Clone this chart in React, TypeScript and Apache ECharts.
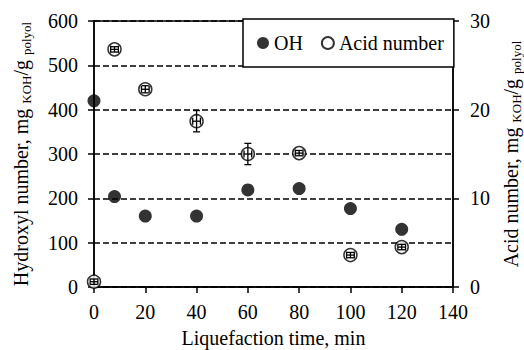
import React, { useEffect, useRef } from "react";
import * as echarts from "echarts";

const times = [0, 8, 20, 40, 60, 80, 100, 120];
const ohValues = [420, 204, 160, 160, 219, 222, 177, 130];
const acidValues = [0.6, 26.8, 22.3, 18.7, 15.0, 15.1, 3.6, 4.5];
const acidYErr = [0.3, 0.3, 0.4, 1.2, 1.2, 0.3, 0.3, 0.3];
const acidXErr = [1.5, 1.5, 1.5, 1.5, 1.5, 1.5, 1.5, 1.5];
const xTicks = { min: 0, max: 140, interval: 20 };
const leftTicks = { min: 0, max: 600, interval: 100 };
const rightTicks = { min: 0, max: 30, interval: 10 };

const FONT = "Liberation Serif";

export default function App() {
  const ref = useRef<HTMLDivElement>(null);
  useEffect(() => {
    if (!ref.current) return;
    const chart = echarts.init(ref.current, null, { renderer: "svg" });
    const axisLine = { show: true, lineStyle: { color: "#000", width: 1.5 } };
    const axisTick = { show: true, length: 6, inside: false, lineStyle: { color: "#000", width: 1.5 } };
    const label = { fontSize: 20, fontFamily: FONT, color: "#000" };
    const richName = {
      m: { fontSize: 20, fontFamily: FONT, color: "#000", lineHeight: 24 },
      s: { fontSize: 13, fontFamily: FONT, color: "#000", lineHeight: 8, verticalAlign: "bottom" },
    };
    chart.setOption({
      animation: false,
      backgroundColor: "#fff",
      textStyle: { fontFamily: FONT },
      grid: {
        left: 94, right: 71, top: 21, bottom: 63,
        containLabel: false, outerBoundsMode: "none",
        show: true, borderColor: "#000", borderWidth: 1.5,
      },
      legend: {
        data: ["OH", "Acid number"],
        left: 243,
        top: 19,
        orient: "horizontal",
        icon: "circle",
        itemWidth: 12,
        itemHeight: 12,
        itemGap: 18,
        padding: [14, 10, 14, 14],
        backgroundColor: "#fff",
        borderColor: "#000",
        borderWidth: 1.5,
        borderRadius: 0,
        textStyle: { ...label, lineHeight: 20 },
        z: 20,
      },
      xAxis: {
        type: "value",
        ...xTicks,
        name: "Liquefaction time, min",
        nameLocation: "middle",
        nameGap: 41,
        nameTextStyle: { ...label, lineHeight: 20 },
        axisLine,
        axisTick,
        axisLabel: { ...label, margin: 15 },
        splitLine: { show: false },
      },
      yAxis: [
        {
          type: "value",
          ...leftTicks,
          position: "left",
          name: "{m|Hydroxyl number, mg }{s|KOH}{m|/g }{s|polyol}",
          nameLocation: "middle",
          nameRotate: 90,
          nameGap: 61,
          nameTextStyle: { ...label, rich: richName },
          axisLine,
          axisTick,
          axisLabel: { ...label, margin: 16 },
          splitLine: { show: true, lineStyle: { color: "#000", width: 1.5, type: [6, 3] } },
        },
        {
          type: "value",
          ...rightTicks,
          position: "right",
          name: "{m|Acid number, mg }{s|KOH}{m|/g }{s|polyol}",
          nameLocation: "middle",
          nameRotate: 90,
          nameGap: 46,
          nameTextStyle: { ...label, rich: richName },
          axisLine,
          axisTick,
          axisLabel: { ...label, margin: 17 },
          splitLine: { show: false },
        },
      ],
      series: [
        {
          name: "OH",
          type: "scatter",
          yAxisIndex: 0,
          symbol: "circle",
          symbolSize: 13,
          itemStyle: { color: "#000" },
          data: times.map((t, i) => [t, ohValues[i]]),
          z: 3,
        },
        {
          name: "Acid number",
          type: "scatter",
          yAxisIndex: 1,
          symbol: "circle",
          symbolSize: 13,
          itemStyle: { color: "#fff", borderColor: "#000", borderWidth: 1.5 },
          data: times.map((t, i) => [t, acidValues[i]]),
          z: 4,
        },
        {
          name: "Acid error",
          type: "custom",
          yAxisIndex: 1,
          z: 5,
          silent: true,
          data: times.map((t, i) => [t, acidValues[i], acidXErr[i], acidYErr[i]]),
          renderItem: (params: any, api: any) => {
            const x = api.value(0);
            const y = api.value(1);
            const ex = api.value(2);
            const ey = api.value(3);
            const top = api.coord([x, y + ey]);
            const bot = api.coord([x, y - ey]);
            const lft = api.coord([x - ex, y]);
            const rgt = api.coord([x + ex, y]);
            const cap = 3.5;
            const style = { stroke: "#000", lineWidth: 1.3 };
            return {
              type: "group",
              children: [
                { type: "line", shape: { x1: top[0], y1: top[1], x2: bot[0], y2: bot[1] }, style },
                { type: "line", shape: { x1: top[0] - cap, y1: top[1], x2: top[0] + cap, y2: top[1] }, style },
                { type: "line", shape: { x1: bot[0] - cap, y1: bot[1], x2: bot[0] + cap, y2: bot[1] }, style },
                { type: "line", shape: { x1: lft[0], y1: lft[1], x2: rgt[0], y2: rgt[1] }, style },
                { type: "line", shape: { x1: lft[0], y1: lft[1] - cap, x2: lft[0], y2: lft[1] + cap }, style },
                { type: "line", shape: { x1: rgt[0], y1: rgt[1] - cap, x2: rgt[0], y2: rgt[1] + cap }, style },
              ],
            };
          },
        },
      ],
    });
    return () => chart.dispose();
  }, []);
  return <div ref={ref} style={{ position: "fixed", left: 0, top: 0, width: 524, height: 350 }} />;
}
